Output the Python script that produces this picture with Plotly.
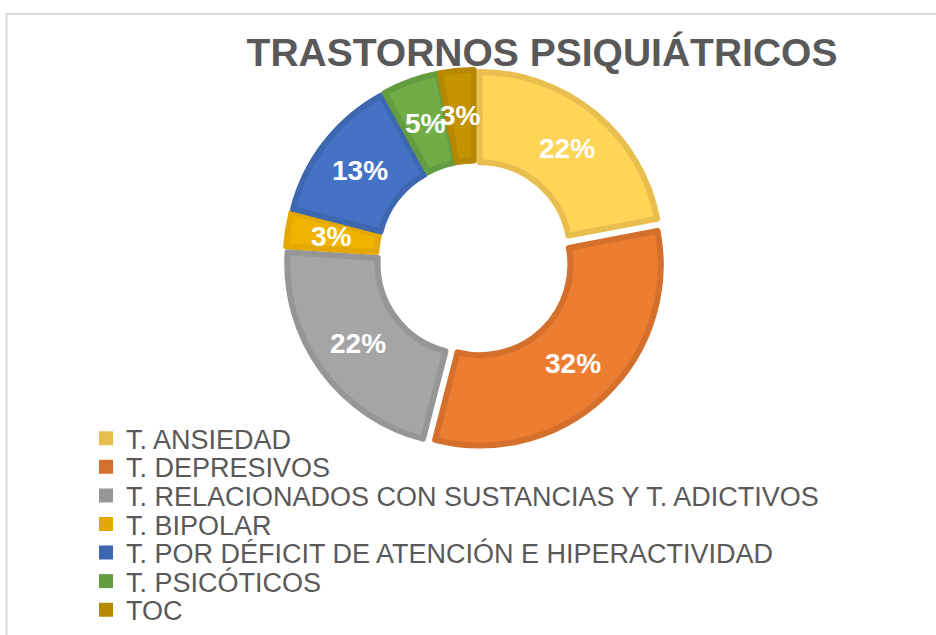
import math
import plotly.graph_objects as go

# ---- data ----
labels = [
    "T. ANSIEDAD",
    "T. DEPRESIVOS",
    "T. RELACIONADOS CON SUSTANCIAS Y T. ADICTIVOS",
    "T. BIPOLAR",
    "T. POR DÉFICIT DE ATENCIÓN E HIPERACTIVIDAD",
    "T. PSICÓTICOS",
    "TOC",
]
values = [22, 32, 22, 3, 13, 5, 3]
fill_colors = ["#FFD557", "#ED7D31", "#A5A5A5", "#F0B400", "#4472C4", "#70AD47", "#C49400"]
edge_colors = ["#E8BF4E", "#D5702C", "#969696", "#E3A900", "#3D67B1", "#649C40", "#B58800"]
title_text = "TRASTORNOS PSIQUIÁTRICOS"

W, H = 936, 635
FONT = "Liberation Sans, Arial, sans-serif"

# pie geometry (pixels)
cx, cy, half = 474.5, 260.5, 190
PULL, HOLE = 0.045, 0.5

fig = go.Figure()
fig.add_trace(go.Pie(
    labels=labels, values=values, sort=False, direction="clockwise", rotation=0,
    hole=HOLE, pull=PULL,
    marker=dict(colors=fill_colors, line=dict(color=edge_colors, width=6)),
    textinfo="none",
    domain=dict(x=[(cx - half) / W, (cx + half) / W],
                y=[(H - cy - half) / H, (H - cy + half) / H]),
    showlegend=False, hoverinfo="label+percent",
))

# percentage labels at the middle of each ring segment (Excel-style)
total = sum(values)
r_out = half / (1 + PULL)
r_lab = (r_out + HOLE * r_out) / 2 + PULL * r_out
annotations = []
cum = 0
for v in values:
    a = 2 * math.pi * (cum + v / 2) / total
    cum += v
    px = cx + r_lab * math.sin(a)
    py = cy - r_lab * math.cos(a)
    annotations.append(dict(
        x=px / W, y=1 - py / H, xref="paper", yref="paper",
        text=f"{round(100 * v / total)}%", showarrow=False,
        xanchor="center", yanchor="middle",
        font=dict(family=FONT, size=28, color="white", weight="bold"),
    ))

legend_layout = {}
first_y, step = 441.5, 28.75
for i, (lab, col) in enumerate(zip(labels, edge_colors)):
    key = "legend" if i == 0 else f"legend{i + 1}"
    fig.add_trace(go.Scatter(
        x=[None], y=[None], mode="markers", name=lab,
        marker=dict(symbol="square", size=14, color=col),
        legend=key, showlegend=True, hoverinfo="skip",
    ))
    legend_layout[key] = dict(
        x=(127 - 41) / W, xanchor="left",
        y=(H - (first_y + i * step)) / H, yanchor="middle",
        font=dict(family=FONT, size=27, color="#595959"),
        bgcolor="rgba(0,0,0,0)", borderwidth=0, itemwidth=30,
    )

fig.update_layout(
    width=W, height=H,
    margin=dict(l=0, r=0, t=0, b=0),
    paper_bgcolor="white", plot_bgcolor="white",
    title=dict(text=title_text, x=542 / W, xanchor="center",
               y=1 - 52 / H, yanchor="middle", yref="container",
               font=dict(family=FONT, size=39, color="#595959", weight="bold")),
    xaxis=dict(visible=False), yaxis=dict(visible=False),
    annotations=annotations,
    shapes=[dict(type="rect", xref="paper", yref="paper",
                 x0=6.5 / W, x1=1.2, y0=-0.2, y1=(H - 14) / H,
                 line=dict(color="#D9D9D9", width=2), fillcolor="rgba(0,0,0,0)",
                 layer="below")],
    **legend_layout,
)

fig.write_html("out.html", config={"displayModeBar": False},
               post_script="document.body.style.margin='0';")
